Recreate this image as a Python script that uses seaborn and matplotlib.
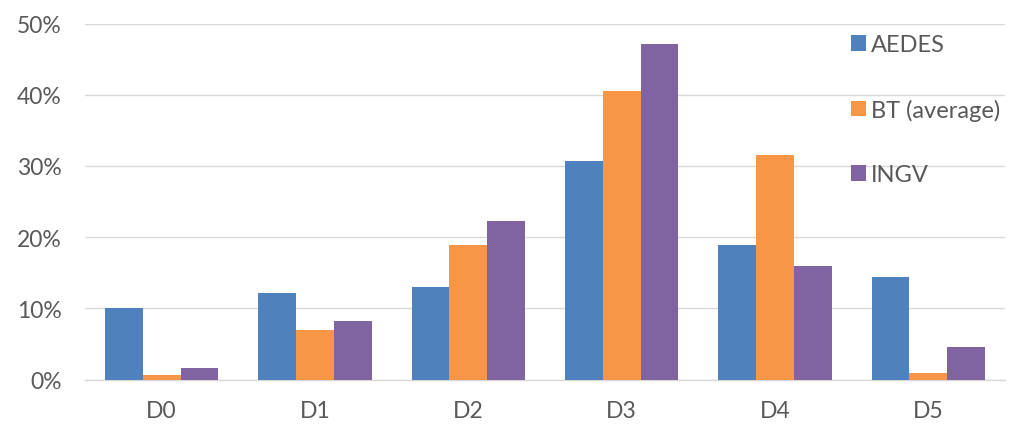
import matplotlib
matplotlib.use("Agg")
import matplotlib.pyplot as plt
from matplotlib.ticker import PercentFormatter
import seaborn as sns
import pandas as pd

# Damage level shares per source
categories = ["D0", "D1", "D2", "D3", "D4", "D5"]
aedes = [0.101, 0.122, 0.130, 0.307, 0.189, 0.144]
bt_average = [0.006, 0.069, 0.189, 0.405, 0.316, 0.009]
ingv = [0.0155, 0.082, 0.222, 0.471, 0.159, 0.045]
series_names = ["AEDES", "BT (average)", "INGV"]
colors = ["#4F81BD", "#F79646", "#8064A2"]

df = pd.DataFrame({
    "level": categories * 3,
    "source": [s for s in series_names for _ in categories],
    "share": aedes + bt_average + ingv,
})

sns.set_theme(style="white")
plt.rcParams["font.family"] = ["Lato", "DejaVu Sans"]

fig = plt.figure(figsize=(10.17, 4.31), dpi=100)
ax = fig.add_axes([85 / 1017, 1 - 380.5 / 431, 920 / 1017, 356 / 431])

sns.barplot(data=df, x="level", y="share", hue="source", order=categories,
            hue_order=series_names, palette=colors, saturation=1, width=0.74,
            linewidth=0, ax=ax, zorder=3)

ax.set_ylim(0, 0.5)
ax.set_xlim(-0.5, 5.5)
ax.set_yticks([0, 0.1, 0.2, 0.3, 0.4, 0.5])
ax.yaxis.set_major_formatter(PercentFormatter(1.0, decimals=0))
ax.set_xlabel("")
ax.set_ylabel("")
ax.grid(axis="y", color="#D9D9D9", linewidth=1, zorder=0)
ax.set_axisbelow(True)
for side in ["top", "right", "left"]:
    ax.spines[side].set_visible(False)
ax.spines["bottom"].set_color("#D9D9D9")
ax.spines["bottom"].set_linewidth(1)
ax.tick_params(axis="both", length=0, labelsize=16.5, colors="#595959")
ax.tick_params(axis="y", pad=17)
ax.tick_params(axis="x", pad=15)

handles, labels = ax.get_legend_handles_labels()
ax.legend_.remove()
fig.legend(handles, labels, loc="upper left",
           bbox_to_anchor=(851 / 1017, 1 - 35 / 431), frameon=False,
           fontsize=17, labelcolor="#595959", handlelength=0.65,
           handleheight=0.65, handletextpad=0.2, labelspacing=1.85,
           borderpad=0, borderaxespad=0)

fig.savefig("out.png", dpi=100, facecolor="white")
